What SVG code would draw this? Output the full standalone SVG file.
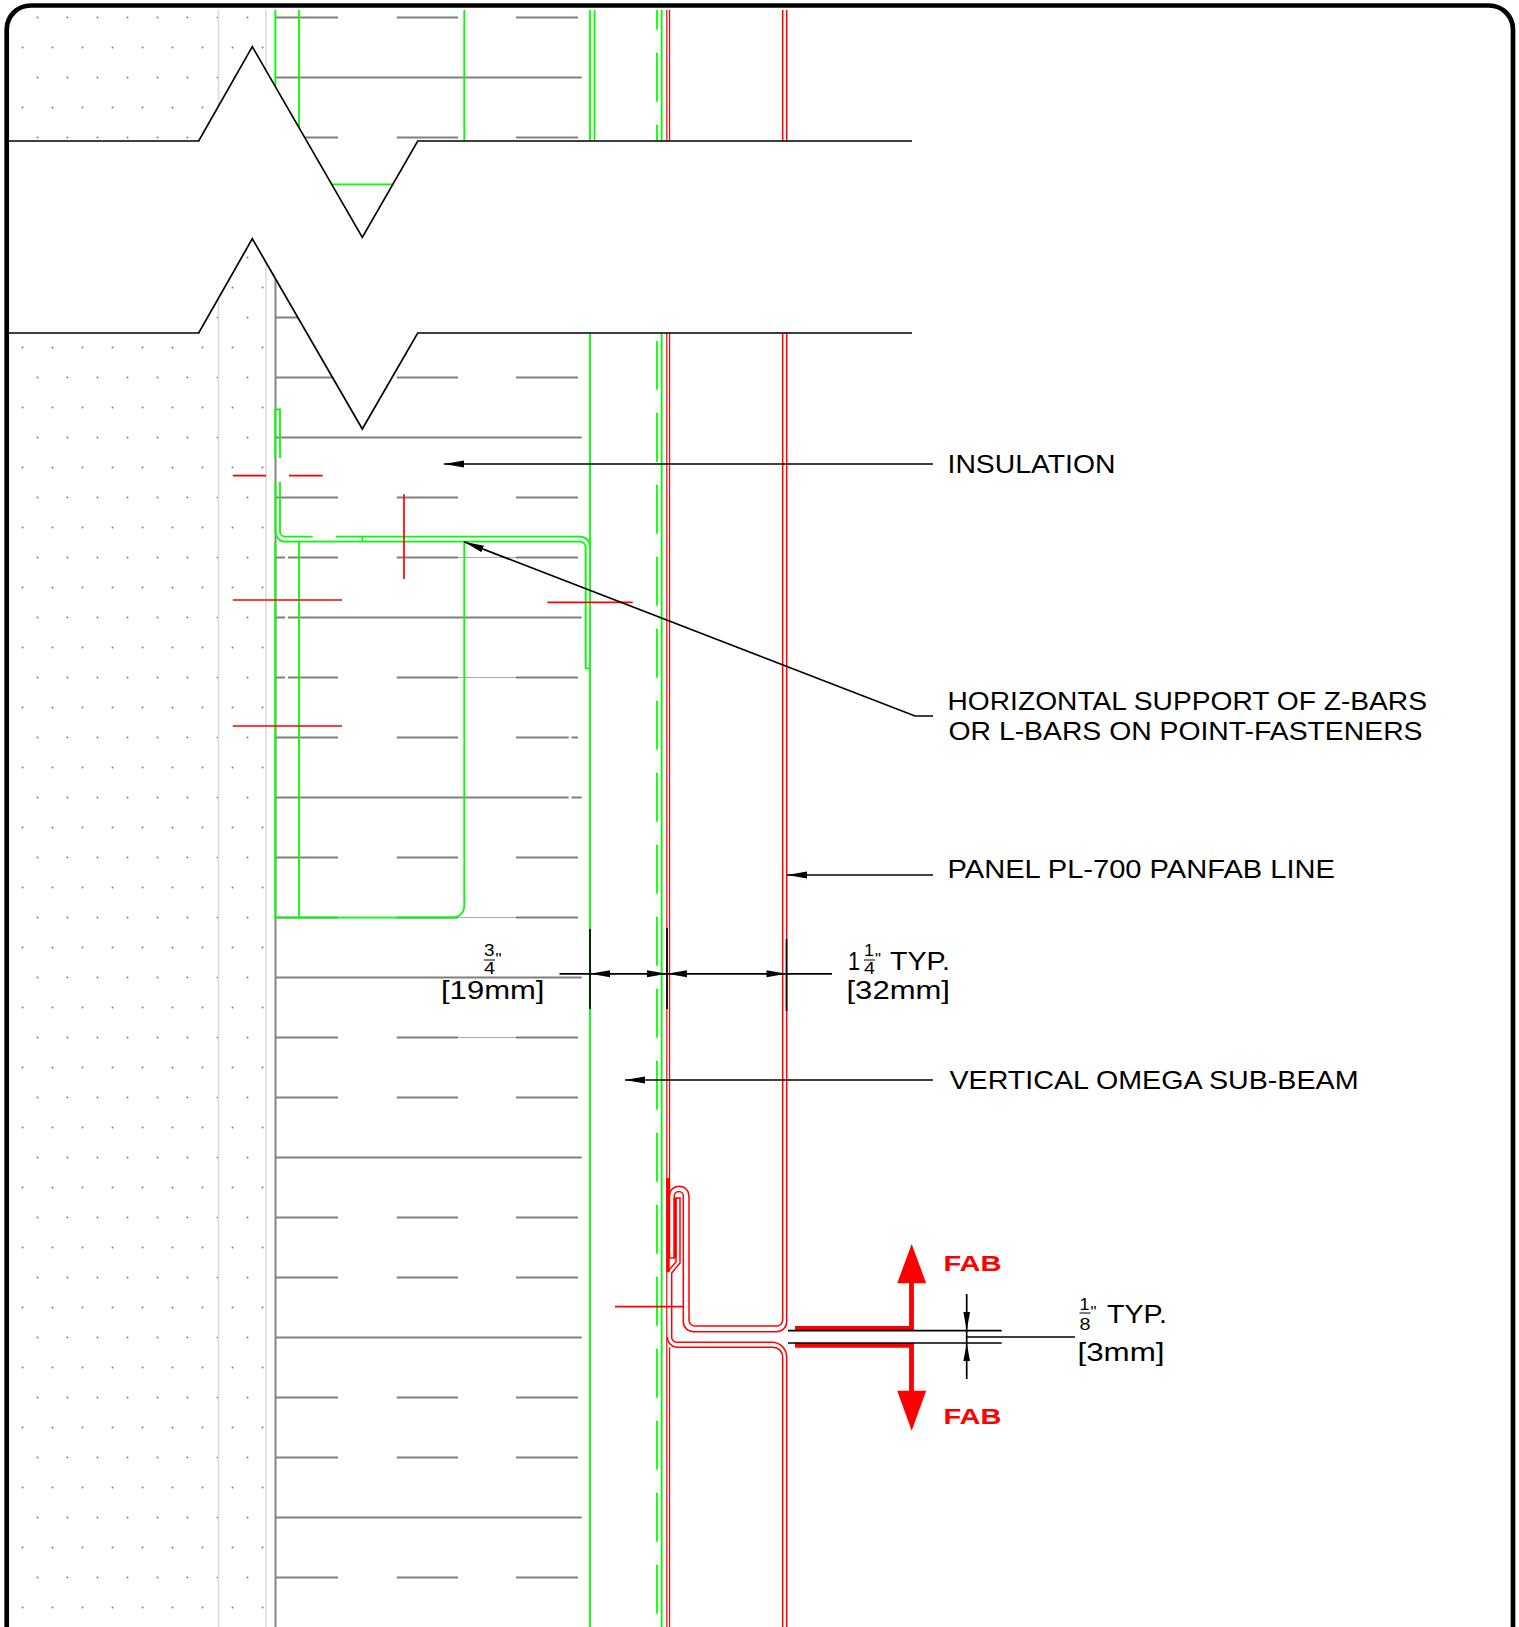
<svg xmlns="http://www.w3.org/2000/svg" width="1519" height="1627" viewBox="0 0 1519 1627">
<style>
text{font-family:"Liberation Sans",Arial,sans-serif;fill:#000;font-size:25.7px}
.fr{font-size:16.5px}
.fab{font-weight:bold;font-size:22px;fill:#f00}
line,path,polyline{fill:none}
.gl{stroke:#ddd;stroke-width:1.7}
.gr{stroke:#808080;stroke-width:1.9}
.gp{stroke:#aaa;stroke-width:1}
.g{stroke:#0f0;stroke-width:1.8}
.r{stroke:#f00;stroke-width:1.5}
.rn{stroke:#f00;stroke-width:1.2}
.rt{stroke:#f00;stroke-width:1.7}
.k{stroke:#000;stroke-width:1.7}
.ah{fill:#000;stroke:none}
.ar{fill:#f00;stroke:none}
</style>
<defs>
<pattern id="dots" patternUnits="userSpaceOnUse" x="0" y="0" width="30" height="60">
<circle cx="7.5" cy="17.5" r="1" fill="#808080"/>
<circle cx="22.5" cy="47.5" r="1" fill="#808080"/>
</pattern>
<marker id="arrow" markerUnits="userSpaceOnUse" markerWidth="20" markerHeight="8" refX="20" refY="3.5" orient="auto"><path class="ah" d="M0 0L20 3.5L0 7Z"/></marker>
</defs>
<rect width="1519" height="1627" fill="#fff"/>
<g id="substrate">
<rect x="10" y="10" width="260" height="1617" fill="url(#dots)"/>
<path class="gl" d="M218.5 10V1627M266 10V1627"/>
<path class="gr" d="M275.5 275V1627"/>
</g>
<g id="insulation">
<path class="gr" d="M276 17.5H338M396.7 17.5H458M516 17.5H578M275.5 77.5H581.7M276 137.5H338M396.7 137.5H458M516 137.5H578"/>
<path class="gr" d="M276 317.5H338M276 377.5H338M396.7 377.5H458M516 377.5H578M275.5 437.5H581.7M276 497.5H338M396.7 497.5H458M516 497.5H578M276 557.5H285M288 557.5H338M396.7 557.5H458M516 557.5H578M276 617.5H285M288 617.5H581.7M276 677.5H285M288 677.5H338M396.7 677.5H458M516 677.5H578M276 737.5H338M396.7 737.5H458M516 737.5H568.7M571.5 737.5H578M276 797.5H568.7M571.5 797.5H581.7M276 857.5H338M396.7 857.5H458M516 857.5H578M276 917.5H338M396.7 917.5H458M516 917.5H578M275.5 977.5H581.7M276 1037.5H338M396.7 1037.5H458M516 1037.5H578M276 1097.5H338M396.7 1097.5H458M516 1097.5H578M275.5 1157.5H581.7M276 1217.5H338M396.7 1217.5H458M516 1217.5H578M276 1277.5H338M396.7 1277.5H458M516 1277.5H578M275.5 1337.5H581.7M276 1397.5H338M396.7 1397.5H458M516 1397.5H578M276 1457.5H338M396.7 1457.5H458M516 1457.5H578M275.5 1517.5H581.7M276 1577.5H338M396.7 1577.5H458M516 1577.5H578"/>
<path class="gp" d="M458 557.5H516M458 677.5H516M338 917.5H396.7M458 917.5H516M458 1037.5H516"/>
</g>
<g id="sub-structure">
<path class="g" d="M275.3 10V141M299 10V141M464.3 10V141M590 10V141M594.5 10V141M661.7 10V141"/>
<path class="g" d="M657 10V141" stroke-dasharray="49 23" stroke-dashoffset="29.3"/>
<path class="g" d="M590 333V1627M661.7 333V1627"/>
<path class="g" d="M657 341V1627" stroke-dasharray="49 23" stroke-dashoffset="-71.7"/>
</g>
<g id="z-bar">
<path class="g" d="M275.3 458V409.3H280V458M275.5 481.7V531.7A10 10 0 0 0 285.5 541.7H580A5.7 5.7 0 0 1 585.7 547.4V668.3H590M280 481.7V531.7A5 5 0 0 0 285 536.7H312.7M335.7 536.7H580A10 10 0 0 1 590 546.7M362.3 536.7V541.7"/>
<path class="g" d="M275.3 541.7V917.7H452.3A12 12 0 0 0 464.3 905.7V541.7M299 541.7V917.7"/>
</g>
<g id="panel-line">
<path class="rn" d="M666.8 10V141M669.6 10V141"/>
<path class="r" d="M782.7 10V141M786.7 10V141"/>
<path class="rn" d="M666.8 333V1627M669.6 333V1258M669.6 1347.3V1627"/>
<path class="r" d="M786.7 333V1321.7A10 10 0 0 1 776.7 1331.7H693.3A10 10 0 0 1 683.3 1321.7V1196A4.5 4.5 0 0 0 674.3 1196V1258H669.3V1196A9.85 9.85 0 0 1 689 1196V1320A6 6 0 0 0 695 1326H776.7A6 6 0 0 0 782.7 1320V333"/>
<path class="r" d="M782.7 1627V1357A9.7 9.7 0 0 0 773 1347.3H677.6A10.3 10.3 0 0 1 667.3 1337"/>
<path class="r" d="M786.7 1627V1357A14.7 14.7 0 0 0 772 1342.3H676.7A5 5 0 0 1 671.7 1337.3V1273L680 1263V1198H676V1262L667.3 1272"/>
<path class="rt" style="stroke-width:3.4" d="M668 1178V1272"/>
<path class="rt" style="stroke-width:3" d="M675 1198V1258"/>
</g>
<g id="break-mask">
<polygon fill="#fff" points="8,141 198.7,141 252.3,46.7 362.3,237.3 417.7,141 912,141 912,333 417.7,333 362.3,429 252.3,238.7 198.7,333 8,333"/>
<path class="g" d="M331.7 184.3H393"/>
</g>
<g id="red-marks">
<path class="rt" d="M232.7 475.7H266M289 475.7H322.7M404 494.3V579M232.7 600H342M232.7 726H342M547.3 602.3H632.7M615 1306.7H683.3"/>
</g>
<g id="break-lines">
<path class="k" d="M8 141H198.7L252.3 46.7L362.3 237.3L417.7 141H912"/>
<path class="k" d="M8 333H198.7L252.3 238.7L362.3 429L417.7 333H912"/>
</g>
<g id="connectors">
<path class="k" d="M933 464H444" marker-end="url(#arrow)"/>
<path class="k" d="M933 716H915L464 541.7" marker-end="url(#arrow)"/>
<path class="k" d="M933 875H787" marker-end="url(#arrow)"/>
<path class="k" d="M933 1080H625" marker-end="url(#arrow)"/>
</g>
<g id="dim-thickness">
<path class="k" d="M590 929V1009M667 928V1009M786.5 939V1011M559.5 973.8H832"/>
<polygon class="ah" points="590,973.8 610,970.3 610,977.3"/>
<polygon class="ah" points="667,973.8 647,970.3 647,977.3"/>
<polygon class="ah" points="667,973.8 687,970.3 687,977.3"/>
<polygon class="ah" points="786.5,973.8 766.5,970.3 766.5,977.3"/>
<text class="fr" x="484" y="955.5" textLength="10.5" lengthAdjust="spacingAndGlyphs">3</text>
<path class="k" style="stroke-width:1" d="M484 960H495"/>
<text class="fr" x="484" y="973.5" textLength="11" lengthAdjust="spacingAndGlyphs">4</text>
<text x="495.5" y="965" textLength="6" lengthAdjust="spacingAndGlyphs" style="font-size:16px">"</text>
<text x="441" y="999" textLength="103.5" lengthAdjust="spacingAndGlyphs">[19mm]</text>
<text x="848" y="970" textLength="12" lengthAdjust="spacingAndGlyphs">1</text>
<text class="fr" x="864" y="955.5" textLength="10" lengthAdjust="spacingAndGlyphs">1</text>
<path class="k" style="stroke-width:1" d="M864 960H875"/>
<text class="fr" x="864" y="973.5" textLength="11" lengthAdjust="spacingAndGlyphs">4</text>
<text x="875" y="965" textLength="6" lengthAdjust="spacingAndGlyphs" style="font-size:16px">"</text>
<text x="890" y="970" textLength="60" lengthAdjust="spacingAndGlyphs">TYP.</text>
<text x="846.5" y="999" textLength="103.5" lengthAdjust="spacingAndGlyphs">[32mm]</text>
</g>
<g id="fab-arrows">
<path d="M795 1328.3H911.5V1283" stroke="#f00" stroke-width="4.8" fill="none"/>
<path d="M795 1345.3H911.5V1391" stroke="#f00" stroke-width="4.8" fill="none"/>
<polygon class="ar" points="911.7,1244 926.2,1283.3 897.2,1283.3"/>
<polygon class="ar" points="911.7,1430.7 926.2,1390.7 897.2,1390.7"/>
<text class="fab" x="943.5" y="1270.7" textLength="58" lengthAdjust="spacingAndGlyphs">FAB</text>
<text class="fab" x="943.5" y="1424" textLength="58" lengthAdjust="spacingAndGlyphs">FAB</text>
</g>
<g id="dim-gap">
<path class="k" d="M788 1330.7H1001.7M788 1343H1001.7M966.7 1294V1379M966.7 1337H1075"/>
<polygon class="ah" points="966.7,1330.7 963.4,1312 970,1312"/>
<polygon class="ah" points="966.7,1343 963.4,1361 970,1361"/>
<text class="fr" x="1079.5" y="1309.5" textLength="10" lengthAdjust="spacingAndGlyphs">1</text>
<path class="k" style="stroke-width:1" d="M1079.5 1313H1090.5"/>
<text class="fr" x="1079.5" y="1330" textLength="11" lengthAdjust="spacingAndGlyphs">8</text>
<text x="1090.5" y="1318" textLength="6" lengthAdjust="spacingAndGlyphs" style="font-size:16px">"</text>
<text x="1107" y="1322.7" textLength="60" lengthAdjust="spacingAndGlyphs">TYP.</text>
<text x="1077.5" y="1360.7" textLength="87" lengthAdjust="spacingAndGlyphs">[3mm]</text>
</g>
<g id="label-insulation"><text x="947.5" y="472.7" textLength="168" lengthAdjust="spacingAndGlyphs">INSULATION</text></g>
<g id="label-z-bars">
<text x="947.5" y="710.3" textLength="479.5" lengthAdjust="spacingAndGlyphs">HORIZONTAL SUPPORT OF Z-BARS</text>
<text x="948.5" y="740.3" textLength="474" lengthAdjust="spacingAndGlyphs">OR L-BARS ON POINT-FASTENERS</text>
</g>
<g id="label-panel"><text x="947.5" y="877.7" textLength="387.5" lengthAdjust="spacingAndGlyphs">PANEL PL-700 PANFAB LINE</text></g>
<g id="label-omega"><text x="949.5" y="1089.3" textLength="409" lengthAdjust="spacingAndGlyphs">VERTICAL OMEGA SUB-BEAM</text></g>
<g id="frame"><path d="M6.7 1640V29.5A24 24 0 0 1 30.7 5.5H1489A24 24 0 0 1 1513 29.5V1640" fill="none" stroke="#000" stroke-width="4.7"/></g>
</svg>
